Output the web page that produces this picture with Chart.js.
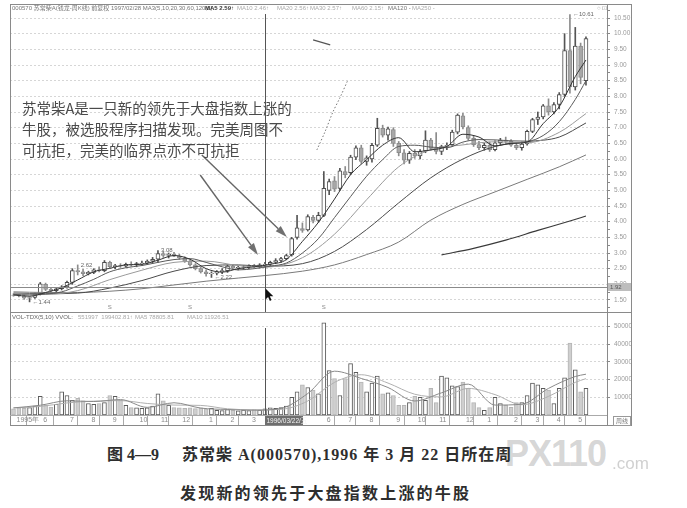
<!DOCTYPE html>
<html><head><meta charset="utf-8">
<script src="https://cdn.jsdelivr.net/npm/chart.js@4.4.1/dist/chart.umd.min.js"></script>
<style>
html,body{margin:0;padding:0;background:#fff;}
#wrap{position:relative;width:687px;height:508px;overflow:hidden;background:#fff;font-family:"Liberation Sans","Noto Sans CJK SC",sans-serif;}
canvas{position:absolute;left:0;}
.ln{position:absolute;background:#8a8a8a;}
.t{position:absolute;white-space:nowrap;line-height:1;}
.hd{font-size:6px;top:5px;}
</style></head><body><div id="wrap">
<canvas id="pc" width="687" height="312" style="top:0;width:687px;height:312px"></canvas>
<canvas id="vc" width="687" height="114" style="top:312px;width:687px;height:114px"></canvas>

<div class="ln" style="left:10px;top:4px;width:622px;height:1px"></div>
<div class="ln" style="left:10px;top:4px;width:1px;height:422px"></div>
<div class="ln" style="left:631px;top:4px;width:1px;height:422px"></div>
<div class="ln" style="left:607px;top:4px;width:1px;height:422px"></div>
<div class="ln" style="left:10px;top:312px;width:622px;height:1px"></div>
<div class="ln" style="left:10px;top:415px;width:597px;height:1px;background:#aaa"></div>
<div class="ln" style="left:10px;top:425px;width:622px;height:1px"></div>

<div class="t hd" style="left:12px;color:#777">000570 苏常柴A(钱龙-周K线) 前复权 1997/02/28 MA3(5,10,20,30,60,120,0)</div>
<div class="t hd" style="left:205px;color:#333;font-weight:bold">MA5 2.59↑</div>
<div class="t hd" style="left:237px;color:#aaa">MA10 2.46↑</div>
<div class="t hd" style="left:277px;color:#aaa">MA20 2.56↑</div>
<div class="t hd" style="left:310px;color:#aaa">MA30 2.57↑</div>
<div class="t hd" style="left:352px;color:#aaa">MA60 2.15↑</div>
<div class="t hd" style="left:388px;color:#777">MA120 -</div>
<div class="t hd" style="left:412px;color:#aaa">MA250 -</div>
<div class="t hd" style="left:597px;color:#999">○ ⊡</div>

<div class="t" style="left:12px;top:314px;font-size:6px;color:#666">VOL-TDX(5,10) VVOL:</div>
<div class="t" style="left:78px;top:314px;font-size:6px;color:#aaa">551997&nbsp; 199402.81↑</div>
<div class="t" style="left:135px;top:314px;font-size:6px;color:#aaa">MA5 78805.81</div>
<div class="t" style="left:187px;top:314px;font-size:6px;color:#aaa">MA10 11926.51</div>
<div class="t" style="left:613px;top:416px;width:16px;height:8px;border:1px solid #999;font-size:6px;color:#777;text-align:center;line-height:8px">周线</div>

<div class="t" style="left:22px;top:97px;font-family:'Noto Sans CJK SC',sans-serif;font-size:14.5px;line-height:21px;color:#4a4a4a">苏常柴A是一只新的领先于大盘指数上涨的<br>牛股，被选股程序扫描发现。完美周图不<br>可抗拒，完美的临界点亦不可抗拒</div>

<div class="t" style="left:505px;top:436px;font-family:'Liberation Sans',sans-serif;font-weight:bold;font-size:36px;color:rgba(150,150,150,0.40);letter-spacing:-1px">PX110</div>
<div class="t" style="left:612px;top:455px;font-family:'Liberation Sans',sans-serif;font-size:17px;color:rgba(150,150,150,0.45)">.com</div>

<div class="t" style="left:107px;top:447px;font-family:'Liberation Serif','Noto Sans CJK SC',serif;font-weight:bold;font-size:16px;color:#2e2e2e">图 4—9</div>
<div class="t" style="left:182px;top:447px;font-family:'Liberation Serif','Noto Sans CJK SC',serif;font-weight:bold;font-size:16px;letter-spacing:1px;color:#2e2e2e">苏常柴 A(000570),1996 年 3 月 22 日所在周</div>
<div class="t" style="left:180px;top:484px;font-family:'Noto Sans CJK SC',sans-serif;font-weight:bold;font-size:16px;letter-spacing:2.2px;color:#2e2e2e">发现新的领先于大盘指数上涨的牛股</div>
</div>
<script>
// ---------- DATA (weekly bars, bar 0 = week of 1995-04-28) ----------
const openP = [1.66,1.65,1.63,1.56,1.58,1.70,2.00,1.84,1.80,1.86,
 1.92,2.06,2.44,2.40,2.34,2.38,2.46,2.44,2.70,2.56,
 2.60,2.58,2.64,2.62,2.66,2.68,2.74,2.80,2.98,2.92,
 2.96,2.90,2.84,2.74,2.62,2.50,2.40,2.34,2.36,2.40,
 2.44,2.58,2.52,2.54,2.56,2.58,2.56,2.62,2.64,2.70,
 2.76,2.82,2.94,3.50,3.78,3.74,4.14,4.04,4.20,5.00,
 5.30,5.06,5.60,5.56,6.06,6.36,5.92,6.00,6.44,6.98,
 6.76,6.94,6.50,6.20,5.96,6.18,6.10,6.26,6.60,6.34,
 6.24,6.40,6.46,6.86,7.38,7.00,6.66,6.46,6.36,6.44,
 6.30,6.52,6.60,6.56,6.44,6.36,6.48,6.88,7.26,7.34,
 7.70,7.50,7.74,8.06,9.46,8.30,9.60,8.50];
const highP = [1.70,1.68,1.66,1.60,1.72,2.06,2.04,1.90,1.88,1.96,
 2.10,2.50,2.62,2.48,2.42,2.50,2.56,2.76,2.74,2.64,
 2.66,2.68,2.72,2.70,2.74,2.78,2.86,3.08,3.04,3.00,
 3.02,2.96,2.88,2.78,2.66,2.54,2.46,2.40,2.44,2.50,
 2.62,2.62,2.58,2.60,2.62,2.64,2.66,2.70,2.74,2.82,
 2.86,2.96,3.50,4.20,3.96,4.22,4.20,4.30,5.60,5.36,
 5.44,5.70,5.76,6.12,6.42,6.44,6.10,6.50,7.30,7.08,
 7.02,7.00,6.56,6.30,6.24,6.30,6.30,6.90,6.66,6.84,
 6.44,6.52,6.92,7.44,7.46,7.06,6.74,6.56,6.50,6.54,
 6.58,6.66,6.70,6.62,6.50,6.54,6.92,7.30,7.50,7.74,
 7.92,7.80,8.12,10.00,10.61,10.20,9.70,9.90];
const lowP = [1.62,1.60,1.52,1.44,1.55,1.66,1.80,1.76,1.76,1.82,
 1.88,2.00,2.30,2.28,2.30,2.34,2.40,2.40,2.52,2.50,
 2.54,2.55,2.58,2.56,2.60,2.64,2.68,2.70,2.86,2.84,
 2.88,2.80,2.70,2.58,2.46,2.36,2.26,2.22,2.30,2.34,
 2.38,2.48,2.46,2.48,2.50,2.52,2.52,2.56,2.60,2.66,
 2.70,2.78,2.90,3.44,3.66,3.70,3.96,3.98,4.16,4.86,
 4.96,5.00,5.40,5.50,5.98,5.86,5.80,5.90,6.40,6.70,
 6.60,6.40,6.10,5.84,5.86,6.02,6.00,6.20,6.28,6.16,
 6.14,6.30,6.40,6.80,6.96,6.60,6.40,6.30,6.28,6.24,
 6.26,6.46,6.50,6.40,6.30,6.28,6.44,6.84,7.10,7.28,
 7.40,7.44,7.60,8.00,8.10,8.20,8.40,8.36];
const closeP = [1.65,1.63,1.56,1.58,1.70,2.02,1.84,1.80,1.86,1.92,
 2.06,2.44,2.40,2.34,2.38,2.46,2.44,2.70,2.56,2.60,
 2.58,2.64,2.62,2.66,2.68,2.74,2.80,2.98,2.92,2.96,
 2.90,2.84,2.74,2.62,2.50,2.40,2.34,2.36,2.40,2.44,
 2.58,2.52,2.54,2.56,2.58,2.56,2.62,2.64,2.70,2.76,
 2.82,2.92,3.46,3.80,3.72,4.16,4.04,4.20,5.06,5.28,
 5.04,5.62,5.50,6.06,6.36,5.92,6.04,6.44,6.98,6.76,
 6.96,6.50,6.20,5.96,6.18,6.10,6.24,6.60,6.34,6.24,
 6.40,6.44,6.86,7.40,7.02,6.66,6.46,6.36,6.44,6.30,
 6.52,6.60,6.56,6.44,6.36,6.48,6.88,7.26,7.34,7.70,
 7.50,7.74,8.06,9.46,8.30,9.60,8.60,9.84];
const volume = [3500,4000,3800,4200,5000,10500,5500,4500,6000,13000,
 11000,8300,9400,8000,6500,6000,6500,7000,11000,10500,
 8300,5500,4200,4000,3800,4000,5000,12000,8000,5500,
 4200,4000,3800,4000,3600,4000,3500,3800,2700,2500,
 3000,2600,2400,2800,2500,3000,2800,3500,4000,3800,
 4200,5000,10000,13000,17000,15500,14000,12000,52000,25000,
 20500,11000,20500,29000,24000,18500,13000,18000,22000,12000,
 12500,11000,5500,5500,7000,10500,10000,8300,15000,7000,
 22000,21000,16500,16000,18500,15000,7000,4200,2700,4200,
 10000,6500,5500,4300,7000,7000,11000,18000,17000,15000,
 14000,6500,15000,21000,40500,25500,13000,15000];

// moving-average lines at sample bars
const maIdxA = [0,3,6,9,12,15,18,21,24,27,30,33,36,39,42,45,48,51,54,57,60,63,66,69,72,75,78,81,84,87,90,93,96,99,102,105,107];
const ma5  = [1.66,1.62,1.74,1.89,2.14,2.40,2.51,2.62,2.64,2.77,2.92,2.80,2.50,2.39,2.50,2.56,2.64,2.79,3.37,3.98,4.72,5.50,5.98,6.44,6.68,6.23,6.29,6.40,6.79,6.70,6.42,6.50,6.54,7.13,7.67,8.63,9.16];
const ma10 = [1.68,1.66,1.69,1.76,1.95,2.16,2.40,2.53,2.60,2.70,2.79,2.82,2.70,2.56,2.46,2.50,2.58,2.68,3.00,3.46,4.13,4.80,5.45,5.98,6.40,6.44,6.38,6.36,6.54,6.62,6.61,6.58,6.57,6.75,7.19,7.90,8.50];
const maIdxB = [0,6,12,18,24,30,36,42,47,54,60,66,72,78,84,90,96,102,107];
const ma20 = [1.70,1.68,1.80,2.15,2.45,2.70,2.74,2.60,2.55,2.85,3.60,4.70,5.75,6.30,6.45,6.55,6.52,6.85,7.45];
const ma30 = [1.72,1.70,1.72,1.88,2.12,2.42,2.60,2.62,2.58,2.66,3.05,3.75,4.60,5.40,6.00,6.40,6.55,6.70,7.15];
const ma60 = [1.76,1.74,1.74,1.78,1.86,1.98,2.10,2.20,2.28,2.42,2.62,2.95,3.35,4.05,4.55,4.95,5.35,5.75,6.13];
const ma120Idx = [80,86,92,98,104,107];
const ma120 = [2.94,3.15,3.41,3.72,4.02,4.18];
const extraIdx = [56.7,58.2,59.7,61,62.5];
const extraP = [6.29,6.86,7.50,7.95,8.52];
const extra2Idx = [56,59.2];
const extra2P = [9.80,9.64];

const vmaIdx = [0,5,10,15,20,25,30,35,40,45,50,55,60,65,70,75,80,85,90,95,100,105,107];
const vma5  = [4000,5500,8000,7600,8700,4300,6900,3900,3100,2700,3700,12100,24700,20600,15500,7900,12500,17400,5600,6100,15000,21700,23000];
const vma10 = [4000,4800,6800,7800,8100,6500,5600,5400,3500,2900,3200,7900,18400,22700,18000,11700,10200,15000,11500,5800,10500,18400,20500];

// axis ticks
const monthTickIdx = [0,5,10,14,18,23,27,31,36,40,44,58,62,66,71,75,79,84,88,93,97,101,105];
const monthTickLabels = ['1995年','6','7','8','9','10','11','12','1','2','3','6','7','8','9','10','11','12','1','2','3','4','5'];
const volTickValues = [10000,20000,30000,40000,50000];

// cursor / markers / annotation anchors (data units)
const cursorIdx = 47, cursorPrice = 1.92, cursorDate = '1996/03/22/五';
const markIdx = [3,12,27,37,104];
const markPrice = [1.44,2.62,3.08,2.22,10.61];
const markText = ['←1.44','2.62','3.08','←2.22','←10.61'];
const sIdx = [18,33,58];
const arrowFrom = [[34.9,5.49],[35.2,6.13]];
const arrowTo = [[45.7,2.94],[51.1,3.51]];

// ---------- CHARTS ----------
Chart.defaults.font.family = '"Liberation Sans","DejaVu Sans",sans-serif';
Chart.defaults.animation = false;
const XMIN = -0.654, XMAX = 110.93;
const up = i => closeP[i] >= openP[i];
const pts = (idx, vals) => idx.map((x,k)=>({x, y: vals[k]}));
const lineDS = (idx, vals, color, order, extra) => Object.assign({
  type:'line', data: pts(idx, vals), borderColor: color, borderWidth: 1,
  pointRadius: 0, fill: false, cubicInterpolationMode: 'monotone', order
}, extra || {});
const half = v => Math.abs(v*2 - Math.round(v*2)) < 1e-6;
const fitY = s => { s.width = 25; s.paddingTop = 0; s.paddingBottom = 0; };

function drawArrow(ctx, x1, y1, x2, y2){
  const ang = Math.atan2(y2-y1, x2-x1), hl = 12, hw = 3.6;
  const bx = x2 - hl*Math.cos(ang), by = y2 - hl*Math.sin(ang);
  ctx.strokeStyle = '#666'; ctx.lineWidth = 1.4;
  ctx.beginPath(); ctx.moveTo(x1,y1); ctx.lineTo(bx,by); ctx.stroke();
  ctx.fillStyle = '#707070';
  ctx.beginPath(); ctx.moveTo(x2,y2);
  ctx.lineTo(bx + hw*Math.sin(ang), by - hw*Math.cos(ang));
  ctx.lineTo(bx - hw*Math.sin(ang), by + hw*Math.cos(ang));
  ctx.closePath(); ctx.fill();
}

const priceOverlay = {
  id: 'priceOverlay',
  afterDatasetsDraw(chart){
    const {ctx, chartArea: a, scales: {x, y}} = chart;
    ctx.save();
    const cx = Math.round(x.getPixelForValue(cursorIdx)) + 0.5;
    const cy = Math.round(y.getPixelForValue(cursorPrice)) + 0.5;
    ctx.lineWidth = 1;
    ctx.strokeStyle = '#8a8a8a';
    ctx.beginPath(); ctx.moveTo(a.left, cy); ctx.lineTo(a.right, cy); ctx.stroke();
    ctx.strokeStyle = '#555';
    ctx.beginPath(); ctx.moveTo(cx, a.top + 9); ctx.lineTo(cx, a.bottom); ctx.stroke();
    ctx.font = '6px "Liberation Sans"'; ctx.fillStyle = '#666';
    ctx.textAlign = 'left'; ctx.textBaseline = 'middle';
    markIdx.forEach((m,k)=>{
      ctx.fillText(markText[k], x.getPixelForValue(m) + 3, y.getPixelForValue(markPrice[k]));
    });
    ctx.fillStyle = '#888'; ctx.textAlign = 'center';
    sIdx.forEach(s => ctx.fillText('S', x.getPixelForValue(s), a.bottom - 5));
    arrowFrom.forEach((f,k)=>{
      drawArrow(ctx, x.getPixelForValue(f[0]), y.getPixelForValue(f[1]),
        x.getPixelForValue(arrowTo[k][0]), y.getPixelForValue(arrowTo[k][1]));
    });
    ctx.translate(cx, cy + 1);
    ctx.fillStyle = '#111';
    ctx.beginPath();
    ctx.moveTo(0,0); ctx.lineTo(0,11); ctx.lineTo(2.6,8.4); ctx.lineTo(4.4,12.4);
    ctx.lineTo(6,11.6); ctx.lineTo(4.3,7.8); ctx.lineTo(7.8,7.8); ctx.closePath(); ctx.fill();
    ctx.restore();
  },
  afterDraw(chart){
    const {ctx, chartArea: a, scales: {y}} = chart;
    const cy = Math.round(y.getPixelForValue(cursorPrice));
    ctx.save();
    ctx.fillStyle = '#bdbdbd';
    ctx.fillRect(a.right + 1, cy - 4, 23, 8);
    ctx.fillStyle = '#555'; ctx.font = '6px "Liberation Sans"';
    ctx.textAlign = 'left'; ctx.textBaseline = 'middle';
    ctx.fillText(cursorPrice.toFixed(2), a.right + 3, cy);
    ctx.restore();
  }
};

new Chart(document.getElementById('pc'), {
  type: 'bar',
  data: { datasets: [
    lineDS(maIdxA, ma5, '#333', 1),
    lineDS(maIdxA, ma10, '#5a5a5a', 2),
    lineDS(maIdxB, ma20, '#9a9a9a', 3),
    lineDS(maIdxB, ma30, '#4a4a4a', 4),
    lineDS(maIdxB, ma60, '#7a7a7a', 5),
    lineDS(ma120Idx, ma120, '#3a3a3a', 6, {borderWidth: 1.2}),
    lineDS(extraIdx, extraP, '#777', 7, {borderDash: [1.5, 2], cubicInterpolationMode: 'default', tension: 0.3}),
    lineDS(extra2Idx, extra2P, '#555', 7, {borderWidth: 1.2}),
    { type: 'bar', order: 9, grouped: false, barThickness: 4, borderSkipped: false, borderWidth: 1,
      data: openP.map((o,i)=>({x: i, y: [Math.min(o, closeP[i]), Math.max(o, closeP[i])]})),
      backgroundColor: c => up(c.dataIndex) ? '#ffffff' : '#a8a8a8',
      borderColor: c => up(c.dataIndex) ? '#4d4d4d' : '#8c8c8c' },
    { type: 'bar', order: 10, grouped: false, barThickness: 1, borderWidth: 0,
      data: lowP.map((l,i)=>({x: i, y: [l, highP[i]]})),
      backgroundColor: c => up(c.dataIndex) ? '#555' : '#8c8c8c' }
  ]},
  options: {
    responsive: false, animation: false,
    layout: { autoPadding: false, padding: { left: 10, right: 55, top: 5, bottom: 0 } },
    plugins: { legend: { display: false }, tooltip: { enabled: false } },
    scales: {
      x: { type: 'linear', min: XMIN, max: XMAX, display: false, offset: false },
      y: { position: 'right', min: 1.117, max: 10.915,
        afterFit: fitY,
        border: { display: false, dash: [2, 2] },
        grid: { color: c => (c.tick && half(c.tick.value)) ? 'rgba(0,0,0,0.16)' : 'rgba(0,0,0,0)',
                tickColor: '#888', tickLength: 3, lineWidth: 1 },
        ticks: { stepSize: 0.25, includeBounds: false, autoSkip: false, padding: 4, color: '#9a9a9a',
                 font: { size: 6.5 }, callback: v => half(v) ? v.toFixed(2) : '' } }
    }
  },
  plugins: [priceOverlay]
});

const volOverlay = {
  id: 'volOverlay',
  afterDatasetsDraw(chart){
    const {ctx, chartArea: a, scales: {x}} = chart;
    const cx = Math.round(x.getPixelForValue(cursorIdx)) + 0.5;
    ctx.save();
    ctx.strokeStyle = '#555'; ctx.lineWidth = 1;
    ctx.beginPath(); ctx.moveTo(cx, a.top + 15); ctx.lineTo(cx, a.bottom); ctx.stroke();
    ctx.restore();
  },
  afterDraw(chart){
    const {ctx, chartArea: a, scales: {x}} = chart;
    const cx = Math.round(x.getPixelForValue(cursorIdx));
    ctx.save();
    ctx.fillStyle = '#6e6e6e';
    ctx.fillRect(cx, a.bottom + 1, 38, 9);
    ctx.fillStyle = '#f2f2f2'; ctx.font = '6.5px "Liberation Sans","Noto Sans CJK SC"';
    ctx.textAlign = 'left'; ctx.textBaseline = 'middle';
    ctx.fillText(cursorDate, cx + 1.5, a.bottom + 5.8);
    ctx.restore();
  }
};

new Chart(document.getElementById('vc'), {
  type: 'bar',
  data: { datasets: [
    lineDS(vmaIdx, vma5, '#8a8a8a', 1),
    lineDS(vmaIdx, vma10, '#b0b0b0', 2),
    { type: 'bar', order: 5, grouped: false, barThickness: 4, borderSkipped: false, borderWidth: 1,
      data: volume.map((v,i)=>({x: i, y: v})),
      backgroundColor: c => up(c.dataIndex) ? '#ffffff' : '#cfcfcf',
      borderColor: c => up(c.dataIndex) ? '#5a5a5a' : '#b5b5b5' }
  ]},
  options: {
    responsive: false, animation: false,
    layout: { autoPadding: false, padding: { left: 10, right: 55, top: 1, bottom: 0 } },
    plugins: { legend: { display: false }, tooltip: { enabled: false } },
    scales: {
      x: { type: 'linear', min: XMIN, max: XMAX, offset: false, position: 'bottom',
        afterFit: s => { s.height = 11; s.paddingLeft = 0; s.paddingRight = 0; },
        afterBuildTicks: s => { s.ticks = monthTickIdx.map(v => ({ value: v })); },
        border: { display: false },
        grid: { drawOnChartArea: false, drawTicks: true, tickLength: 10, tickColor: '#aaa' },
        ticks: { autoSkip: false, maxRotation: 0, align: 'start', labelOffset: 3, padding: -9,
                 color: '#8a8a8a', font: { size: 7 },
                 callback: (v, k) => monthTickLabels[k] } },
      y: { position: 'right', min: 0, max: 57500,
        afterFit: fitY,
        afterBuildTicks: s => { s.ticks = volTickValues.map(v => ({ value: v })); },
        border: { display: false, dash: [2, 2] },
        grid: { color: 'rgba(0,0,0,0.16)', tickColor: '#888', tickLength: 3 },
        ticks: { autoSkip: false, padding: 4, color: '#9a9a9a',
                 font: { size: 6.5 }, callback: (v, k) => String(volTickValues[k]) } }
    }
  },
  plugins: [volOverlay]
});
</script>
</body></html>
